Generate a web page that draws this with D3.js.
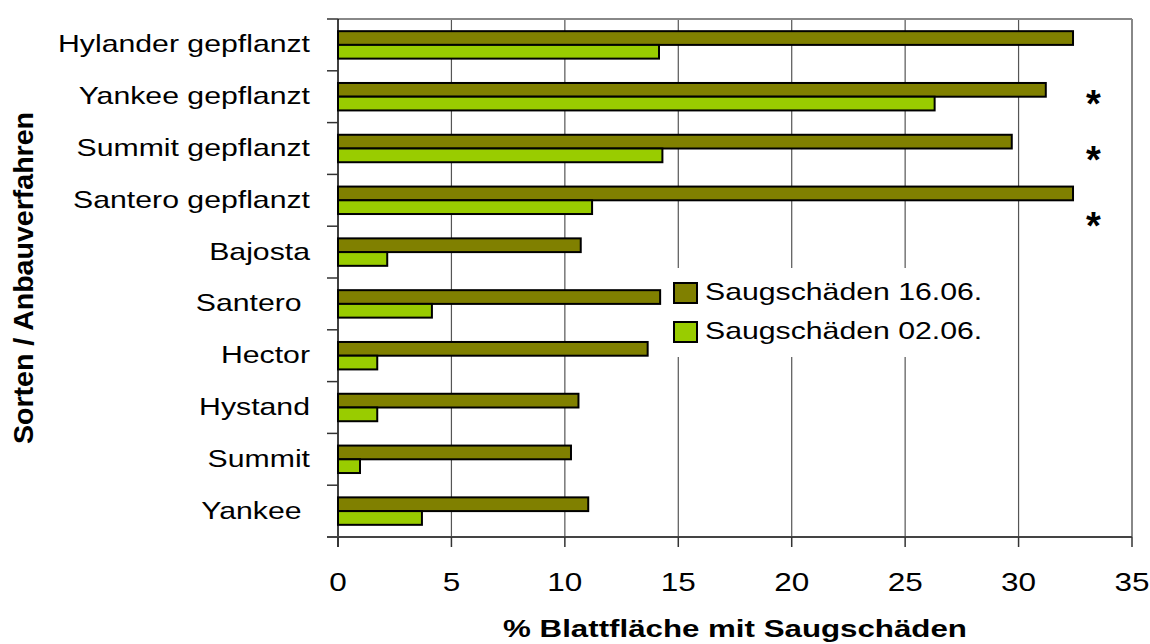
<!DOCTYPE html>
<html>
<head>
<meta charset="utf-8">
<script src="https://cdn.jsdelivr.net/npm/d3@7"></script>
<style>
  html, body { margin: 0; padding: 0; background: #fff; }
  svg { display: block; font-family: "Liberation Sans", Arial, sans-serif; }
  text { white-space: pre; }
</style>
</head>
<body>
<svg id="chart" width="1150" height="644"></svg>
<script>
// ---- data ----
const categories = ["Hylander gepflanzt", "Yankee gepflanzt", "Summit gepflanzt", "Santero gepflanzt",
                    "Bajosta", "Santero ", "Hector", "Hystand", "Summit", "Yankee "];
const seriesNames = ["Saugschäden 16.06.", "Saugschäden 02.06."];
const values1606 = [32.4, 31.2, 29.7, 32.4, 10.7, 14.2, 13.65, 10.6, 10.27, 11.03];
const values0206 = [14.15, 26.3, 14.3, 11.2, 2.17, 4.14, 1.73, 1.73, 0.97, 3.7];
const xTicks = [0, 5, 10, 15, 20, 25, 30, 35];
const starCats = ["Yankee gepflanzt", "Summit gepflanzt", "Santero gepflanzt"];
const starOffsets = [-1, 3, 18];
const xTitle = "% Blattfläche mit Saugschäden";
const yTitle = "Sorten / Anbauverfahren";

const colors = ["#808000", "#99CC00"];
const SX = 1.26; // horizontal stretch of text

(function () {
const svg = d3.select("#chart");
const pL = 338, pR = 1132, pT = 19, pB = 537;

const x = d3.scaleLinear().domain([0, 35]).range([pL, pR]);
const y = d3.scaleBand().domain(categories).range([pT, pB]).padding(0);
const bw = y.bandwidth();
const inner = d3.scaleBand().domain(seriesNames).range([0.235 * bw, 0.765 * bw]).padding(0);

const rows = categories.map((c, i) => ({ cat: c, vals: [values1606[i], values0206[i]] }));

function stretchText(sel, tx, ty, anchor, size, weight, sx) {
  const g = sel.append("g").attr("transform", `translate(${tx},${ty}) scale(${sx || SX},1)`);
  return g.append("text").attr("text-anchor", anchor).attr("font-size", size)
    .attr("font-weight", weight || "normal").attr("fill", "#000");
}

// gridlines
svg.append("g").selectAll("line").data(xTicks.filter(t => t > 0 && t < 35)).join("line")
  .attr("x1", d => x(d)).attr("x2", d => x(d)).attr("y1", pT).attr("y2", pB)
  .attr("stroke", "#555").attr("stroke-width", 1.2);

// plot border top/right
svg.append("line").attr("x1", pL).attr("x2", pR).attr("y1", pT).attr("y2", pT)
  .attr("stroke", "#888").attr("stroke-width", 2);
svg.append("line").attr("x1", pR).attr("x2", pR).attr("y1", pT).attr("y2", pB)
  .attr("stroke", "#888").attr("stroke-width", 2);

// bars
const grp = svg.append("g").selectAll("g").data(rows).join("g")
  .attr("transform", d => `translate(0,${y(d.cat)})`);
grp.selectAll("rect").data(d => d.vals.map((v, j) => ({ v, s: seriesNames[j], j }))).join("rect")
  .attr("x", x(0)).attr("y", d => inner(d.s))
  .attr("width", d => x(d.v) - x(0)).attr("height", inner.bandwidth())
  .attr("fill", d => colors[d.j]).attr("stroke", "#000").attr("stroke-width", 2);

// y axis
const yAxis = svg.append("g");
yAxis.append("line").attr("x1", pL).attr("x2", pL).attr("y1", pT).attr("y2", pB + 10)
  .attr("stroke", "#000").attr("stroke-width", 1.5);
const yTickPos = categories.map(c => y(c)).concat([pB]);
yAxis.selectAll("line.t").data(yTickPos).join("line").attr("class", "t")
  .attr("x1", pL - 11).attr("x2", pL).attr("y1", d => d).attr("y2", d => d)
  .attr("stroke", "#333").attr("stroke-width", 1.5);
categories.forEach(c => {
  stretchText(svg, 310, y(c) + bw / 2 + 7.5, "end", 24).text(c);
});

// x axis
svg.append("line").attr("x1", pL - 11).attr("x2", pR).attr("y1", pB).attr("y2", pB)
  .attr("stroke", "#444").attr("stroke-width", 2);
svg.append("g").selectAll("line").data(xTicks).join("line")
  .attr("x1", d => x(d)).attr("x2", d => x(d)).attr("y1", pB).attr("y2", pB + 10)
  .attr("stroke", "#333").attr("stroke-width", 1.5);
xTicks.forEach(t => {
  stretchText(svg, x(t), 591, "middle", 25).text(t);
});

// axis titles
stretchText(svg, (pL + pR) / 2, 637, "middle", 23, "bold", 1.36).text(xTitle);
svg.append("text").attr("transform", `translate(33,${(pT + pB) / 2}) rotate(-90)`)
  .attr("text-anchor", "middle").attr("font-size", 28).attr("font-weight", "bold")
  .attr("textLength", 332).attr("lengthAdjust", "spacingAndGlyphs").text(yTitle);

// stars
starCats.forEach((c, i) => {
  svg.append("text").attr("x", x(33.3)).attr("y", y(c) + bw / 2 + starOffsets[i] + 21)
    .attr("text-anchor", "middle").attr("font-size", 38).attr("font-weight", "bold").text("*");
});

// legend
const lg = svg.append("g");
lg.append("rect").attr("x", 668).attr("y", 268).attr("width", 332).attr("height", 89).attr("fill", "#fff");
seriesNames.forEach((s, i) => {
  const yy = 283 + i * 39;
  lg.append("rect").attr("x", 674).attr("y", yy).attr("width", 23).attr("height", 20)
    .attr("fill", colors[i]).attr("stroke", "#000").attr("stroke-width", 2);
  stretchText(lg, 705, yy + 16.5, "start", 24).text(s);
});
})();
</script>
</body>
</html>
